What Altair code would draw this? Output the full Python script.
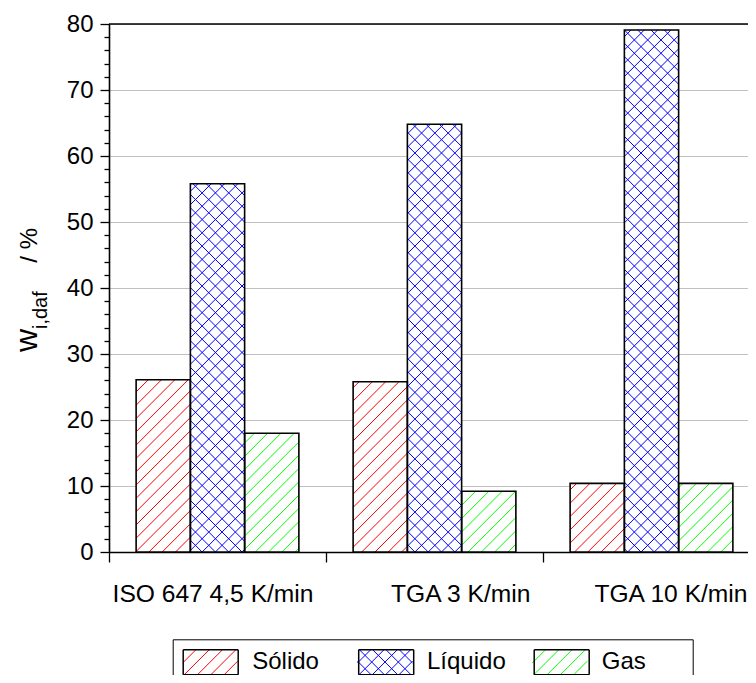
import json
import math
import altair as alt
import pandas as pd

# ---------------- data ----------------
categories = ["ISO 647 4,5 K/min", "TGA 3 K/min", "TGA 10 K/min"]
series = ["Sólido", "Líquido", "Gas"]
solido = [26.1, 25.8, 10.4]
liquido = [55.8, 64.8, 79.1]
gas = [18.0, 9.2, 10.4]
series_colors = ["#ff0000", "#0000ff", "#00ff00"]
series_hatch = ["fwd", "cross", "fwd"]
y_major = [0, 10, 20, 30, 40, 50, 60, 70, 80]
y_minor = [v for v in range(0, 81, 2) if v % 10 != 0]

# ---------------- layout ----------------
FONT = "Liberation Sans"
W_VIS = 639          # visible plot width
W_FULL = 651         # x range (plot runs past the window edge)
H = 528
Y_MAX = 80
PX_X = W_FULL / len(categories)
PX_Y = H / Y_MAX
SP = 13.3            # hatch spacing in px

codes = [f"s{j}" for j in range(len(series))]
values_by_series = [solido, liquido, gas]
rows = []
for i, cat in enumerate(categories):
    for j, s in enumerate(series):
        x0 = i + 0.125 + 0.25 * j
        rows.append(dict(category=cat, series=s, code=codes[j], x0=x0, x1=x0 + 0.25,
                         y0=0.0, value=values_by_series[j][i]))
bars = pd.DataFrame(rows)

# hatch segments, computed in px then mapped back to data units
segs = []
for r in rows:
    j = series.index(r["series"])
    col = series_colors[j]
    X0, X1, T = r["x0"] * PX_X, r["x1"] * PX_X, r["value"] * PX_Y
    fams = ["fwd", "back"] if series_hatch[j] == "cross" else ["fwd"]
    for fam in fams:
        if fam == "fwd":  # Y = X - c
            for k in range(math.floor((X0 - T) / SP) - 1, math.ceil(X1 / SP) + 2):
                c = k * SP
                a, b = max(X0, c), min(X1, c + T)
                if b - a > 0.5:
                    segs.append(dict(xa=a / PX_X, ya=(a - c) / PX_Y, xb=b / PX_X, yb=(b - c) / PX_Y, color=col))
        else:  # Y = c - X
            for k in range(math.floor(X0 / SP) - 1, math.ceil((X1 + T) / SP) + 2):
                c = k * SP
                a, b = max(X0, c - T), min(X1, c)
                if b - a > 0.5:
                    segs.append(dict(xa=a / PX_X, ya=(c - a) / PX_Y, xb=b / PX_X, yb=(c - b) / PX_Y, color=col))
hatch = pd.DataFrame(segs)

# legend symbol paths (symbol unit = 12.5 px)
U = 12.5
HW, HH = 27.5 / U, 12.5 / U
sp_u = SP / U


def hatch_path(kind):
    p = ""
    fams = ["fwd", "back"] if kind == "cross" else ["fwd"]
    for fam in fams:
        for k in range(-10, 11):
            c = k * sp_u
            a, b = max(-HW, c - HH), min(HW, c + HH)
            if b - a < 0.05:
                continue
            if fam == "fwd":
                va, vb = c - a, c - b
            else:
                va, vb = a - c, b - c
            p += f"M{a:.3f},{va:.3f}L{b:.3f},{vb:.3f}"
    return p


hatch_paths = [hatch_path(k) for k in series_hatch]
rect_path = f"M{-HW:.3f},{-HH:.3f}L{HW:.3f},{-HH:.3f}L{HW:.3f},{HH:.3f}L{-HW:.3f},{HH:.3f}Z"

# ---------------- scales & axes ----------------
xs = alt.Scale(domain=[0, len(categories)], range=[0, W_FULL], nice=False, zero=False)
ys = alt.Scale(domain=[0, Y_MAX], nice=False)

label_expr = f"({json.dumps(categories)})[datum.value] || ''"
x_axis = alt.Axis(
    values=list(range(len(categories) + 1)), labelExpr=label_expr, title=None,
    grid=False, tickSize=10, tickColor="black", tickWidth=1.3,
    domainColor="black", domainWidth=1.6,
    labelFont=FONT, labelFontSize=24.6, labelColor="black", labelLimit=0,
    labelAlign="right", labelBaseline="top", labelOffset=204,
    labelPadding=20, labelFlush=False, labelOverlap=False, labelBound=False,
)
y_axis_major = alt.Axis(
    values=y_major, title=None, orient="left",
    grid=True, gridColor="#c0c0c0", gridWidth=1,
    tickSize=9, tickColor="black", tickWidth=1.3, domainColor="black", domainWidth=1.6,
    labelFont=FONT, labelFontSize=24, labelColor="black", labelPadding=7,
    labelOverlap=False, labelFlush=False,
)
y_axis_minor = alt.Axis(
    values=y_minor, title=None, orient="left", grid=False, labels=False, domain=False,
    tickSize=5, tickColor="black", tickWidth=1.3,
)

XB = alt.X("x0:Q", scale=xs, axis=x_axis)

fill_layer = alt.Chart(bars).mark_rect(fill="white", strokeWidth=0).encode(
    x=XB, x2="x1:Q", y=alt.Y("y0:Q", scale=ys, axis=y_axis_major), y2="value:Q")

hatch_layer = alt.Chart(hatch).mark_rule(strokeWidth=1).encode(
    x=alt.X("xa:Q", scale=xs, axis=x_axis), x2="xb:Q",
    y=alt.Y("ya:Q", scale=ys, axis=None), y2="yb:Q",
    stroke=alt.Stroke("color:N", scale=None))

outline_layer = alt.Chart(bars).mark_rect(filled=False, stroke="black", strokeWidth=1.6).encode(
    x=XB, x2="x1:Q", y=alt.Y("y0:Q", scale=ys, axis=y_axis_minor), y2="value:Q")

frame_df = pd.DataFrame({"fx0": [0], "fx1": [len(categories)], "fy": [Y_MAX]})
top_frame = alt.Chart(frame_df).mark_rule(color="black", strokeWidth=1.6).encode(
    x=alt.X("fx0:Q", scale=xs, axis=x_axis), x2="fx1:Q",
    y=alt.Y("fy:Q", scale=ys, axis=None))

LEG_X, LEG_Y = 63.7, 615.3
legend_common = dict(
    orient="none", legendX=LEG_X, legendY=LEG_Y, direction="horizontal",
    columns=3, gridAlign="all", symbolSize=625, symbolOffset=15,
    labelFont=FONT, labelFontSize=24, padding=9.5, symbolOpacity=1,
)
leg_hatch = alt.Legend(**legend_common, title=".", titleOrient="right", titleOpacity=0,
                       titleFontSize=24, titlePadding=30, titleFont=FONT,
                       columnPadding=23.8, labelOffset=29, labelColor="black",
                       strokeColor="black", symbolStrokeWidth=1)

legend_hatch = alt.Chart(bars).mark_point(filled=False, opacity=0, size=1).encode(
    x=XB, y=alt.Y("value:Q", scale=ys, axis=None),
    stroke=alt.Stroke("series:N", scale=alt.Scale(domain=series, range=series_colors), legend=leg_hatch),
    shape=alt.Shape("series:N", scale=alt.Scale(domain=series, range=hatch_paths), legend=leg_hatch),
)

legend_border = alt.Chart(bars).mark_point(filled=False, opacity=0, size=1).encode(
    x=XB, y=alt.Y("value:Q", scale=ys, axis=None),
    strokeDash=alt.StrokeDash(
        "code:N", scale=alt.Scale(domain=codes, range=[[1, 0], [1, 0], [1, 0]]),
        legend=alt.Legend(**legend_common, title=None, columnPadding=113.5,
                          labelOffset=0, labelExpr="''",
                          symbolType=rect_path, symbolStrokeColor="black",
                          symbolStrokeWidth=1.5)),
)

one = alt.Data(values=[{}])
t_w = alt.Chart(one).mark_text(text="w", angle=270, align="left", baseline="alphabetic",
                               font=FONT, fontSize=32, color="black").encode(
    x=alt.value(-72), y=alt.value(328))
t_sub = alt.Chart(one).mark_text(text="i,daf", angle=270, align="left", baseline="alphabetic",
                                 font=FONT, fontSize=20, color="black").encode(
    x=alt.value(-62), y=alt.value(305))
t_unit = alt.Chart(one).mark_text(text="/ %", angle=270, align="right", baseline="alphabetic",
                                  font=FONT, fontSize=24, color="black").encode(
    x=alt.value(-72), y=alt.value(204))

chart = alt.layer(
    fill_layer, hatch_layer, outline_layer, top_frame, legend_hatch, legend_border,
    t_w, t_sub, t_unit,
).resolve_axis(y="independent").properties(
    width=W_VIS, height=H,
    autosize=alt.AutoSizeParams(type="none"),
    padding={"left": 101, "top": 16, "right": 0, "bottom": 123},
).configure_view(strokeWidth=0).configure(font=FONT)

chart.save("out.html", embed_options={"renderer": "svg", "actions": False})
